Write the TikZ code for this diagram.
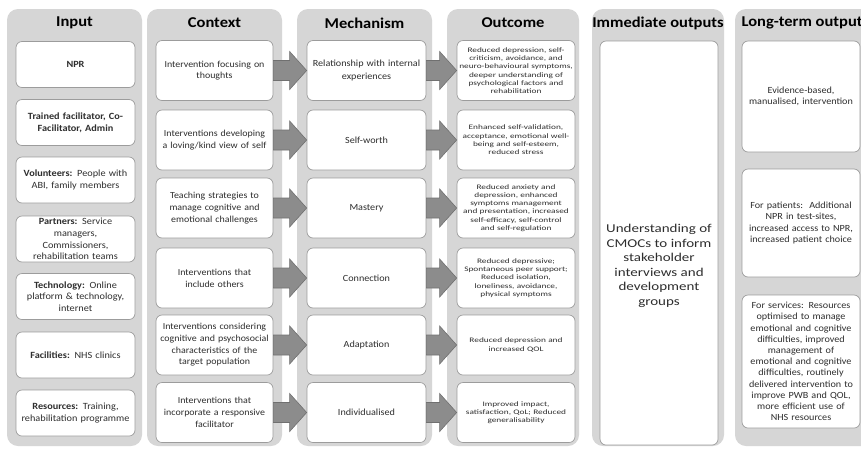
\documentclass[tikz,border=0pt]{standalone}
\usepackage{fontspec}
\setmainfont{Carlito}
\newfontfamily\fin[FakeStretch=1.08]{Carlito}
\newfontfamily\fctx[FakeStretch=1.08]{Carlito}
\newfontfamily\fout[FakeStretch=1.35]{Carlito}
\newfontfamily\fimm[FakeStretch=1.25]{Carlito}
\newfontfamily\fttl[FakeStretch=1.1]{Carlito}
\usetikzlibrary{calc}
\definecolor{panelgray}{HTML}{D6D6D6}
\definecolor{boxline}{HTML}{9C9C9C}
\definecolor{arrowfill}{HTML}{8C8C8C}
\definecolor{arrowline}{HTML}{707070}
\definecolor{txtgray}{HTML}{2E2E2E}
\newcommand{\fatarrow}[2]{%
  \filldraw[fatarr] ($(#1.east)+(0,-10)$) -- ($(#2.west)+(-17,-10)$) -- ($(#2.west)+(-17,-19)$) -- (#2.west) -- ($(#2.west)+(-17,19)$) -- ($(#2.west)+(-17,10)$) -- ($(#1.east)+(0,10)$) -- cycle;}
\tikzset{
  panel/.style={fill=panelgray, rounded corners=11pt},
  ttl/.style={font=\fttl\fontsize{15}{18}\selectfont\bfseries, text=black},
  bx/.style={draw=boxline, fill=white, rounded corners=6pt, line width=0.7pt, align=center, inner xsep=0pt, inner ysep=2pt, text=txtgray},
  inbox/.style={bx, text width=119pt, minimum height=46pt, font=\fin\fontsize{9.5}{11.7}\selectfont},
  ctxbox/.style={bx, text width=117pt, minimum height=60pt, font=\fctx\fontsize{9.2}{11.7}\selectfont},
  mechbox/.style={bx, text width=119pt, minimum height=60pt, font=\fctx\fontsize{9.4}{12.2}\selectfont},
  outbox/.style={bx, text width=118pt, minimum height=60pt, font=\fout\fontsize{6.9}{8.3}\selectfont},
  ltbox/.style={bx, text width=118pt, font=\fctx\fontsize{9.4}{11.2}\selectfont},
  immtext/.style={align=center, text=txtgray, font=\fimm\fontsize{12}{14.5}\selectfont},
  fatarr/.style={fill=arrowfill, draw=arrowline, line width=0.6pt},
}
\begin{document}
\begin{tikzpicture}[x=1pt,y=-1pt]
\useasboundingbox (0,0) rectangle (861,448);
\clip (0,0) rectangle (861,448);
\fill[white] (0,0) rectangle (861,448);

% panels
\fill[panel] (7,9) rectangle (142,446);
\fill[panel] (147,9) rectangle (282,446);
\fill[panel] (297,9) rectangle (432,446);
\fill[panel] (447,9) rectangle (579,446);
\fill[panel] (592,9) rectangle (724,446);
\fill[panel] (735,9) rectangle (895,446);

% titles
\node[ttl] (tin) at (74.5,23) {Input};
\node[ttl] (tctx) at (214.5,23) {Context};
\node[ttl] (tmech) at (364.5,23) {Mechanism};
\node[ttl] (tout) at (513,23) {Outcome};
\node[ttl] (timm) at (658,23) {Immediate outputs};
\node[ttl, anchor=west] (tlt) at (738,23) {Long-term outputs};

% input boxes
\node[inbox] (in1) at (75.5,64.5) {\textbf{NPR}};
\node[inbox] (in2) at (75.5,122.5) {\textbf{Trained facilitator, Co-}\\\textbf{Facilitator, Admin}};
\node[inbox] (in3) at (75.5,180) {\textbf{Volunteers:} People with\\ABI, family members};
\node[inbox] (in4) at (75.5,239) {\textbf{Partners:} Service\\managers,\\Commissioners,\\rehabilitation teams};
\node[inbox] (in5) at (75.5,296.5) {\textbf{Technology:} Online\\platform \& technology,\\internet};
\node[inbox] (in6) at (75.5,355) {\textbf{Facilities:} NHS clinics};
\node[inbox] (in7) at (75.5,413) {\textbf{Resources:} Training,\\rehabilitation programme};

% context boxes
\node[ctxbox] (c1) at (214.5,70.5) {Intervention focusing on\\thoughts};
\node[ctxbox] (c2) at (214.5,140) {Interventions developing\\a loving/kind view of self};
\node[ctxbox] (c3) at (214.5,208) {Teaching strategies to\\manage cognitive and\\emotional challenges};
\node[ctxbox] (c4) at (214.5,278) {Interventions that\\include others};
\node[ctxbox] (c5) at (214.5,345) {Interventions considering\\cognitive and psychosocial\\characteristics of the\\target population};
\node[ctxbox] (c6) at (214.5,412.5) {Interventions that\\incorporate a responsive\\facilitator};

% mechanism boxes
\node[mechbox] (m1) at (366.5,70.5) {Relationship with internal\\experiences};
\node[mechbox] (m2) at (366.5,140) {Self-worth};
\node[mechbox] (m3) at (366.5,208) {Mastery};
\node[mechbox] (m4) at (366.5,278) {Connection};
\node[mechbox] (m5) at (366.5,345) {Adaptation};
\node[mechbox] (m6) at (366.5,412.5) {Individualised};

% outcome boxes
\node[outbox] (o1) at (516,70.5) {Reduced depression, self-\\criticism, avoidance, and\\neuro-behavioural symptoms,\\deeper understanding of\\psychological factors and\\rehabilitation};
\node[outbox] (o2) at (516,140) {Enhanced self-validation,\\acceptance, emotional well-\\being and self-esteem,\\reduced stress};
\node[outbox] (o3) at (516,208) {Reduced anxiety and\\depression, enhanced\\symptoms management\\and presentation, increased\\self-efficacy, self-control\\and self-regulation};
\node[outbox] (o4) at (516,278) {Reduced depressive;\\Spontaneous peer support;\\Reduced isolation,\\loneliness, avoidance,\\physical symptoms};
\node[outbox] (o5) at (516,345) {Reduced depression and\\increased QOL};
\node[outbox] (o6) at (516,412.5) {Improved impact,\\satisfaction, QoL; Reduced\\generalisability};

% immediate outputs
\node[bx, text width=118pt, minimum height=404pt] (imm) at (659,243) {};
\node[immtext] (immt) at (659,266) {Understanding of\\CMOCs to inform\\stakeholder\\interviews and\\development\\groups};

% long-term outputs
\node[ltbox, minimum height=111pt] (lt1) at (801,96.5) {Evidence-based,\\manualised, intervention};
\node[ltbox, minimum height=108pt] (lt2) at (801,223) {For patients:\ \ Additional\\NPR in test-sites,\\increased access to NPR,\\increased patient choice};
\node[ltbox, minimum height=133pt] (lt3) at (801,361.5) {For services: Resources\\optimised to manage\\emotional and cognitive\\difficulties, improved\\management of\\emotional and cognitive\\difficulties, routinely\\delivered intervention to\\improve PWB and QOL,\\more efficient use of\\NHS resources};

% arrows
\foreach \i in {1,...,6}{
  \fatarrow{c\i}{m\i}
  \fatarrow{m\i}{o\i}
}
\end{tikzpicture}
\end{document}
